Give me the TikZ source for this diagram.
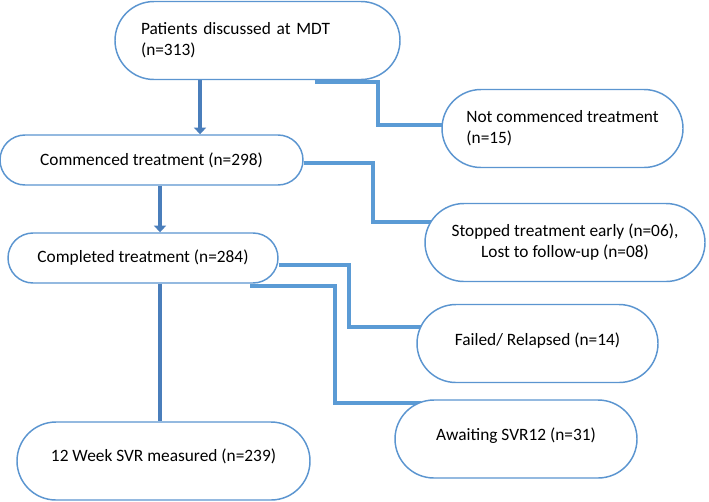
\documentclass[tikz,border=0pt]{standalone}
\usepackage{fontspec}
\setmainfont{Carlito}
\usetikzlibrary{shapes.misc, positioning, calc, arrows.meta, backgrounds}
\definecolor{boxblue}{HTML}{5B95D0}
\definecolor{linkblue}{HTML}{5B9BD5}
\definecolor{flowblue}{HTML}{4A7EBB}

\begin{document}
\begin{tikzpicture}[x=0.75pt, y=-0.75pt,
  stage/.style={rounded rectangle, draw=boxblue, line width=1.1pt, fill=white, minimum height=58.5pt, minimum width={#1-40pt}, inner xsep=-20pt, align=center, font=\fontsize{13}{15.75}\selectfont},
  shortstage/.style={stage=#1, minimum height=37.5pt},
  flow/.style={draw=flowblue, line width=3.4pt},
  exclusion/.style={draw=linkblue, line width=3pt}]
\useasboundingbox (0,0) rectangle (709,501);

% Stages

\node [stage=213.75pt, text width=174.75pt, align=left] (mdt) at (257.5,40.5) {Patients discussed at MDT\\(n=313)};
\node [stage=180.75pt, align=left] (notcommenced) at (562.5,128.5) {Not commenced treatment\\(n=15)};
\node [shortstage=227.25pt] (commenced) at (151.5,160) {Commenced treatment (n=298)};
\node [stage=210pt] (stopped) at (565,242.5) {Stopped treatment early (n=06),\\Lost to follow-up (n=08)};
\node [shortstage=202.5pt] (completed) at (143,258) {Completed treatment (n=284)};
\node [stage=180.75pt, text depth=7pt] (failed) at (537.5,343.5) {Failed/ Relapsed (n=14)};
\node [stage=181.5pt, text depth=7pt] (awaiting) at (516,439) {Awaiting SVR12 (n=31)};
\node [stage=219.75pt, text depth=9pt] (svr) at (163.5,461) {12 Week SVR measured (n=239)};

% Flow

\begin{scope}[on background layer]
\draw[flow, -{Triangle[width=9pt, length=5pt]}] ([xshift=-43.1pt]mdt.south) -- ([xshift=-43.1pt]mdt.south |- commenced.north);

\draw[flow, -{Triangle[width=9pt, length=5pt]}] ([xshift=6.4pt]commenced.south) -- ([xshift=6.4pt]commenced.south |- completed.north);

\draw[flow] ([xshift=12.75pt]completed.south) -- ([xshift=12.75pt]completed.south |- svr.north);

% Exclusions

\draw[exclusion] ([xshift=43.1pt, yshift=-1.5pt]mdt.south) -- ++(63,0) |- ([xshift=8pt, yshift=2.6pt]notcommenced.west);

\draw[exclusion] ([yshift=-2pt]commenced.east) -- ++(69,0) |- ([xshift=6pt, yshift=15.4pt]stopped.west);

\draw[exclusion] ([yshift=-5pt]completed.east) -- ++(70,0) |- ([xshift=5pt, yshift=12.4pt]failed.west);

\draw[exclusion] ([xshift=80.25pt, yshift=-1.5pt]completed.south) -- ++(85,0) |- ([xshift=20pt, yshift=27pt]awaiting.west);
\end{scope}

\end{tikzpicture}
\end{document}
